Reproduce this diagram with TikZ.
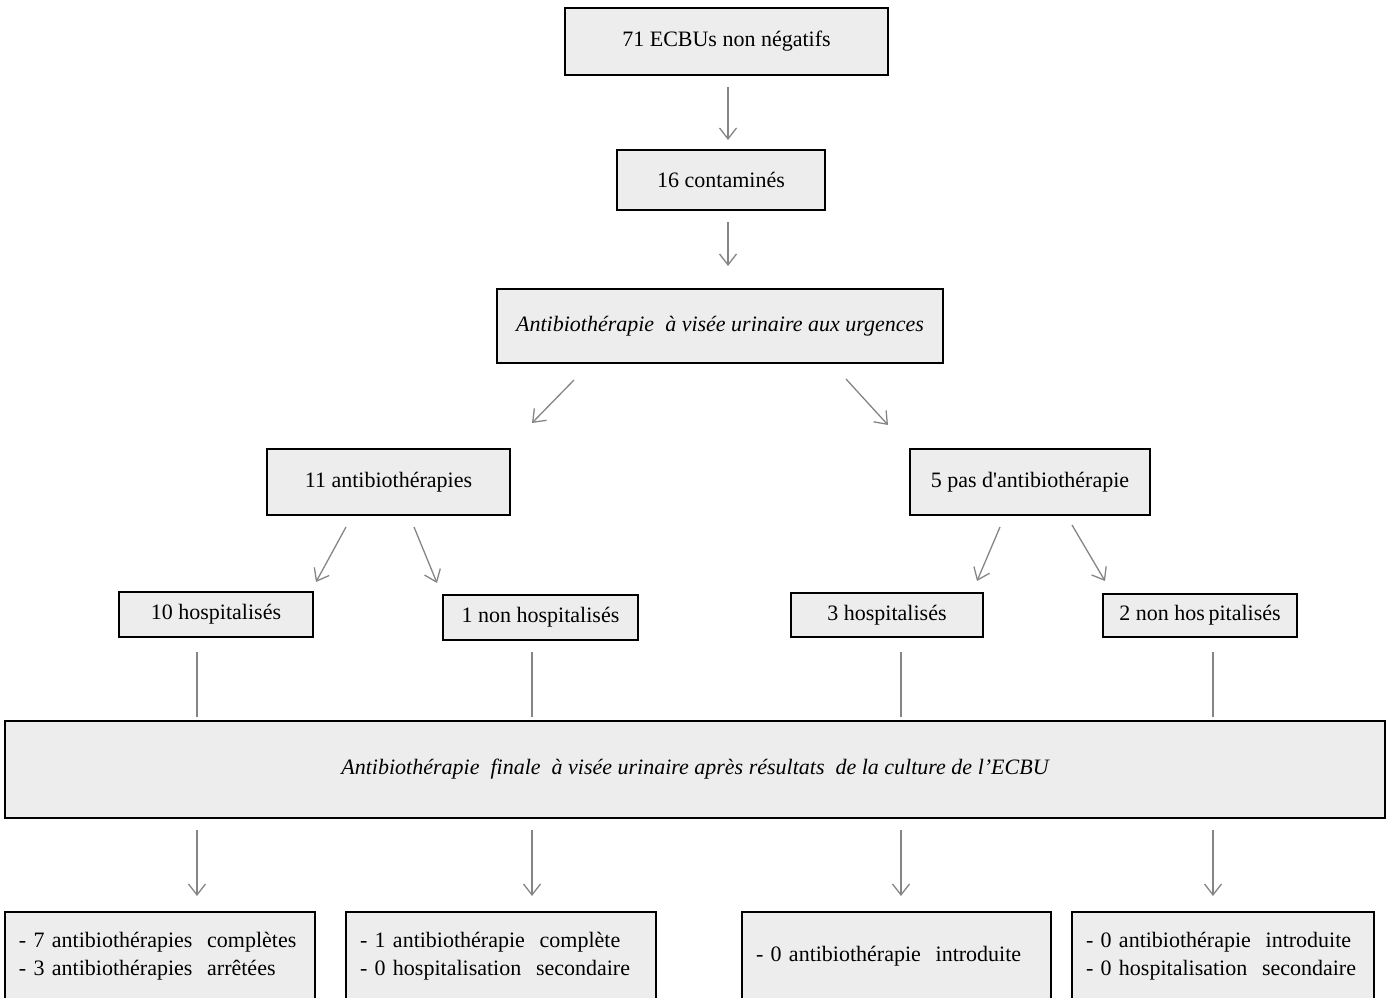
\documentclass[tikz,border=0pt]{standalone}
\usepackage{fontspec}
\setmainfont{Liberation Serif}
\usetikzlibrary{arrows.meta}
\definecolor{boxgray}{HTML}{EDEDED}
\definecolor{arrgray}{HTML}{858585}
\begin{document}
\begin{tikzpicture}[x=1pt,y=-1pt,
  box/.style={draw=black, line width=1.4pt, fill=boxgray, inner sep=0pt,
    font=\fontsize{22}{28}\selectfont, align=center},
  listbox/.style={box, align=left, text width=#1, inner xsep=14pt},
  arr/.style={draw=arrgray, line width=1.3pt, -{Straight Barb[length=11pt,width=17pt,line width=1.3pt]}},
  ln/.style={draw=arrgray, line width=1.3pt}]
\useasboundingbox (0,0) rectangle (1389,998);

\node[box, minimum width=323pt, minimum height=67pt] (b1) at (726.5,41.5) {71 ECBUs non négatifs};
\node[box, minimum width=208pt, minimum height=60pt] (b2) at (721,180) {16 contaminés};
\node[box, minimum width=446pt, minimum height=74pt] (b3) at (720,326) {\itshape Antibiothérapie~ à visée urinaire aux urgences};
\node[box, minimum width=243pt, minimum height=66pt] (b4) at (388.5,482) {11 antibiothérapies};
\node[box, minimum width=240pt, minimum height=66pt] (b5) at (1030,482) {5 pas d\textquotesingle antibiothérapie};
\node[box, minimum width=194pt, minimum height=45pt] (b6) at (216,614.5) {10 hospitalisés};
\node[box, minimum width=195pt, minimum height=45pt] (b7) at (540.5,617.5) {1 non hospitalisés};
\node[box, minimum width=192pt, minimum height=44pt] (b8) at (887,615) {3 hospitalisés};
\node[box, minimum width=194pt, minimum height=43pt] (b9) at (1200,615.5) {2 non hos\,pitalisés};
\node[box, minimum width=1380pt, minimum height=97pt] (big) at (695,769.5)
  {\itshape Antibiothérapie~ finale~ à visée urinaire après~résultats~ de la culture de l’ECBU};
\node[listbox=282pt, minimum height=88pt] (b10) at (160,956)
  {- 7 antibiothérapies~ complètes\\- 3 antibiothérapies~ arrêtées};
\node[listbox=282pt, minimum height=88pt] (b11) at (501,956)
  {- 1 antibiothérapie~ complète\\- 0 hospitalisation~ secondaire};
\node[listbox=281pt, minimum height=88pt] (b12) at (896.5,956)
  {- 0 antibiothérapie~ introduite};
\node[listbox=274pt, minimum height=88pt] (b13) at (1223,956)
  {- 0 antibiothérapie~ introduite\\- 0 hospitalisation~ secondaire};

% arrow end points
\coordinate (a1s) at (728,87);   \coordinate (a1e) at (728,140);
\coordinate (a2s) at (728,222);  \coordinate (a2e) at (728,266);
\coordinate (a3s) at (574,380);  \coordinate (a3e) at (532,423);
\coordinate (a4s) at (846,379);  \coordinate (a4e) at (888,425);
\coordinate (a5s) at (346,527);  \coordinate (a5e) at (316,582);
\coordinate (a6s) at (414,527);  \coordinate (a6e) at (437,583);
\coordinate (a7s) at (1000,527); \coordinate (a7e) at (977,581);
\coordinate (a8s) at (1072,525); \coordinate (a8e) at (1105,581);

\draw[arr] (a1s) -- (a1e);
\draw[arr] (a2s) -- (a2e);
\draw[arr] (a3s) -- (a3e);
\draw[arr] (a4s) -- (a4e);
\draw[arr] (a5s) -- (a5e);
\draw[arr] (a6s) -- (a6e);
\draw[arr] (a7s) -- (a7e);
\draw[arr] (a8s) -- (a8e);

\foreach \x/\n in {197/1,532/2,901/3,1213/4}{
  \coordinate (l\n s) at (\x,652); \coordinate (l\n e) at (\x,717);
  \coordinate (d\n s) at (\x,830); \coordinate (d\n e) at (\x,896);
  \draw[ln] (l\n s) -- (l\n e);
  \draw[arr] (d\n s) -- (d\n e);
}
\end{tikzpicture}
\end{document}
